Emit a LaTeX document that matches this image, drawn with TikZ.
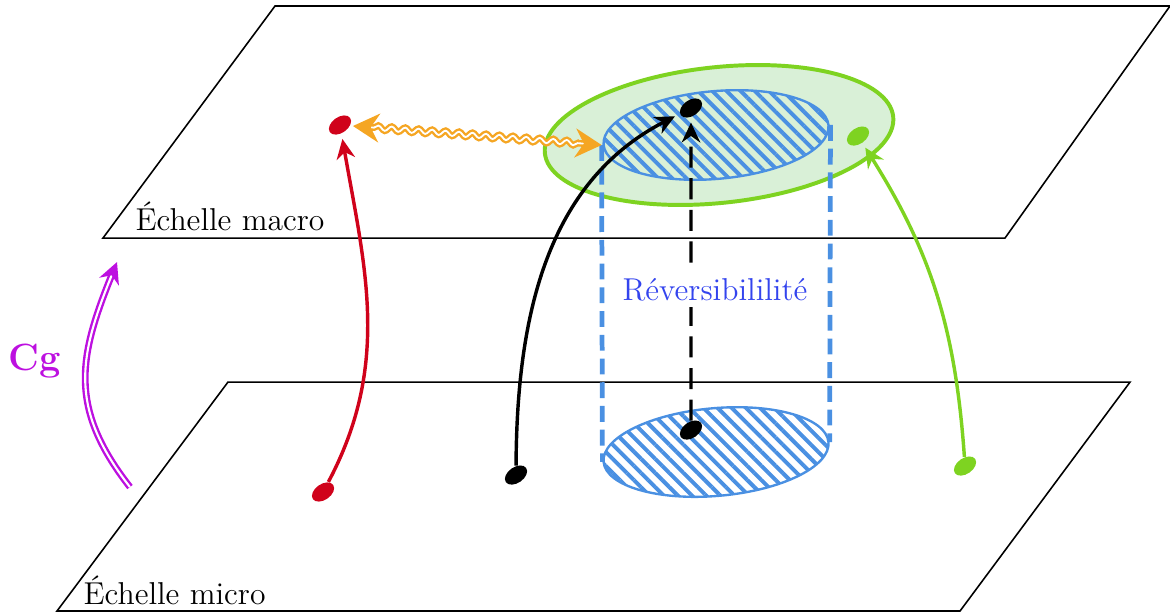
\documentclass[tikz,border=0pt]{standalone}
\usepackage{tikz}
\usetikzlibrary{positioning,arrows.meta,shapes.geometric,calc,decorations.pathmorphing,patterns.meta}
\usepackage{xcolor}
\definecolor{cgpurple}{RGB}{189,16,224}
\definecolor{redspot}{RGB}{208,2,27}
\definecolor{greenspot}{RGB}{126,211,33}
\definecolor{linkorange}{RGB}{245,166,35}
\definecolor{zoneblue}{RGB}{74,144,226}
\definecolor{zonegreen}{RGB}{217,240,215}
\definecolor{revblue}{RGB}{51,68,238}

\begin{document}
\begin{tikzpicture}[
  grain/.style={ellipse,inner sep=0pt,minimum width=0.33cm,minimum height=0.21cm,rotate=35},
  zone/.style={ellipse,draw=zoneblue,line width=0.9pt,inner sep=0pt,minimum width=3.01cm,minimum height=1.17cm,rotate=5,
    pattern={Lines[angle=-45,distance=3.8pt,line width=1.5pt]},pattern color=zoneblue},
  flow/.style={line width=1.3pt,-{Stealth[length=7.5pt,width=7pt]},shorten >=2pt},
  wall/.style={zoneblue,line width=1.8pt,dash pattern=on 6pt off 3pt},
  scalelabel/.style={font=\large,anchor=base west,inner sep=0pt}
]
\useasboundingbox (0,0) rectangle (15.6,8.147);

% the two scales
\draw[semithick] (0.76,0) -- (12.8,0) -- (15.067,3.053) -- (3.04,3.053) -- cycle;
\draw[semithick] (1.373,4.973) -- (13.4,4.973) -- (15.6,8.067) -- (3.667,8.067) -- cycle;
\node[scalelabel] (macroLabel) at (1.8,5.08) {Échelle macro};
\node[scalelabel] (microLabel) at (1.107,0.093) {Échelle micro};

% states
\node[ellipse,draw=greenspot,fill=zonegreen,line width=1.5pt,inner sep=0pt,
  minimum width=4.67cm,minimum height=1.81cm,rotate=6] (macroState) at (9.587,6.347) {};
\node[zone] (macroZone) at (9.547,6.347) {};
\node[zone] (microZone) at (9.547,2.12) {};
\draw[wall] (macroZone.west) -- (microZone.west);
\draw[wall] (macroZone.east) -- (microZone.east);

\node[grain,fill=redspot] (redMacro) at (4.533,6.48) {};
\node[grain,fill=redspot] (redMicro) at (4.307,1.587) {};
\node[grain,fill=black] (blackMacro) at (9.213,6.707) {};
\node[grain,fill=black] (blackMicro) at (9.213,2.413) {};
\node[grain,fill=black] (blackLeft) at (6.88,1.813) {};
\node[grain,fill=greenspot] (greenMacro) at (11.44,6.333) {};
\node[grain,fill=greenspot] (greenMicro) at (12.867,1.933) {};

% links
\draw[flow,redspot] (redMicro) to[out=60,in=-82] (redMacro);
\draw[flow,black] (blackLeft) to[out=88,in=205] (blackMacro);
\draw[flow,greenspot] (greenMicro) to[out=92,in=-60] (greenMacro);
\draw[flow,black,dash pattern=on 8pt off 4pt] (blackMicro) -- (blackMacro);
\node[text=revblue,font=\large,fill=white,inner sep=2pt] (revLabel) at (9.533,4.28) {Réversibililité};

\draw[linkorange,line width=0.9pt,double=white,double distance=0.7pt,decorate,
  decoration={snake,amplitude=0.9pt,segment length=0.18cm,pre length=9pt,post length=9pt},
  {Stealth[length=10pt,width=11pt]}-{Stealth[length=10pt,width=11pt]},shorten <=1pt]
  (redMacro) -- (macroZone.west);

% coarse-graining
\coordinate (cgFrom) at (1.733,1.653);
\coordinate (cgTo) at (1.56,4.653);
\draw[cgpurple,line width=0.9pt,double=white,double distance=0.8pt,-{Stealth[length=8pt,width=8pt]}]
  (cgFrom) to[out=128,in=-112,looseness=1.15] (cgTo);
\node[text=cgpurple,font=\Large\bfseries] (cgLabel) at (0.467,3.333) {Cg};
\end{tikzpicture}
\end{document}
